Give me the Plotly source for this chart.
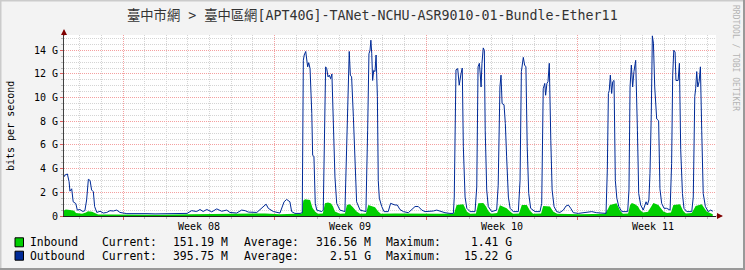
import plotly.graph_objects as go

# ---------------- data (days since start of Week 08, values in G bit/s) ----------------
out_t = [-2.73, -2.68, -2.57, -2.49, -2.45, -2.37, -2.30, -2.18, -2.11, -1.99, -1.86, -1.76,
         -1.68, -1.60, -1.52, -1.45, -1.37, -1.31, -1.21, -1.06, -0.91, -0.75, -0.60, -0.45,
         -0.29, -0.14, 0.18, 0.65, 1.11, 1.48, 1.85, 2.40, 2.96, 3.17, 3.40, 3.56, 3.70, 3.87,
         4.10, 4.33, 4.56, 4.79, 4.94, 5.25, 5.48, 5.64, 5.79, 6.18, 6.41, 6.61, 6.71, 6.94,
         7.25, 7.44, 7.56, 7.71, 7.79, 7.94, 8.18, 8.28, 8.33, 8.37, 8.44, 8.48, 8.53, 8.58,
         8.64, 8.72, 8.76, 8.82, 8.88, 8.95, 9.18, 9.25, 9.30, 9.36, 9.41, 9.47, 9.53, 9.59,
         9.65, 9.71, 9.79, 9.87, 10.02, 10.25, 10.30, 10.36, 10.42, 10.45, 10.50, 10.56, 10.64,
         10.72, 10.79, 10.95, 11.22, 11.30, 11.36, 11.41, 11.45, 11.49, 11.53, 11.58, 11.64,
         11.69, 11.75, 11.79, 11.84, 11.95, 12.06, 12.25, 12.36, 12.56, 12.67, 12.79, 12.95,
         13.18, 13.33, 13.49, 13.64, 13.80, 13.95, 14.10, 14.33, 14.49, 14.72, 14.87, 15.10,
         15.26, 15.30, 15.38, 15.46, 15.53, 15.61, 15.67, 15.72, 15.80, 15.88, 16.03, 16.26,
         16.34, 16.40, 16.46, 16.50, 16.54, 16.58, 16.64, 16.69, 16.73, 16.80, 16.87, 17.03,
         17.26, 17.33, 17.41, 17.46, 17.51, 17.60, 17.66, 17.72, 17.80, 17.88, 18.03, 18.26,
         18.34, 18.40, 18.44, 18.49, 18.55, 18.61, 18.67, 18.74, 18.83, 19.03, 19.26, 19.34,
         19.41, 19.48, 19.52, 19.58, 19.63, 19.69, 19.76, 19.82, 19.91, 20.03, 20.18, 20.34,
         20.46, 20.57, 20.68, 20.80, 21.03, 21.26, 21.42, 21.65, 21.88, 22.11, 22.31, 22.37,
         22.42, 22.46, 22.51, 22.57, 22.62, 22.68, 22.74, 22.81, 22.90, 23.04, 23.31, 23.37,
         23.42, 23.48, 23.54, 23.60, 23.68, 23.76, 23.82, 23.91, 24.03, 24.16, 24.22, 24.29,
         24.34, 24.40, 24.45, 24.50, 24.56, 24.65, 24.74, 24.80, 24.88, 24.99, 25.11, 25.27,
         25.34, 25.39, 25.44, 25.50, 25.54, 25.64, 25.70, 25.76, 25.84, 25.91, 26.04, 26.27,
         26.34, 26.41, 26.45, 26.50, 26.55, 26.61, 26.67, 26.73, 26.80, 26.90, 27.03, 27.14,
         27.24]
out_v = [3.3, 3.46, 3.55, 2.9, 2.1, 2.3, 1.2, 1.05, 0.5, 0.55, 0.38, 0.45,
         1.35, 3.1, 3.0, 2.2, 2.05, 0.8, 0.3, 0.4, 0.25, 0.3, 0.45, 0.42,
         0.5, 0.3, 0.2, 0.22, 0.2, 0.18, 0.2, 0.22, 0.22, 0.45, 0.38, 0.55, 0.38, 0.55,
         0.35, 0.6, 0.4, 0.5, 0.3, 0.25, 0.5, 0.45, 0.33, 0.3, 0.65, 1.0, 0.65, 0.38,
         0.25, 1.2, 1.4, 1.2, 0.37, 0.22, 0.22, 0.28, 13.15, 13.6, 13.9, 13.4, 12.6, 12.95,
         12.45, 8.65, 5.15, 5.0, 1.07, 0.5, 0.37, 0.5, 6.0, 12.6, 12.45, 11.75, 11.9, 11.6,
         12.0, 7.8, 3.3, 1.07, 0.5, 0.37, 4.0, 7.25, 13.15, 13.9, 11.9, 11.75, 8.4,
         3.9, 1.2, 0.5, 0.37, 7.25, 13.7, 14.0, 14.85, 13.7, 11.45, 12.3, 12.2,
         13.6, 10.1, 3.0, 1.5, 0.8, 0.37, 0.37, 1.07, 0.93, 0.93, 0.55, 0.37,
         0.28, 0.5, 0.8, 0.8, 0.5, 0.37, 0.37, 0.42, 0.5, 0.37, 0.28, 0.22,
         0.22, 1.6, 12.35, 12.45, 11.05, 12.0, 12.5, 5.85, 1.6, 0.65, 0.37, 0.37,
         2.45, 12.6, 12.9, 12.0, 10.9, 12.9, 14.2, 14.0, 7.25, 2.2, 0.8, 0.37,
         0.5, 2.6, 10.9, 11.9, 9.5, 9.4, 7.8, 5.0, 1.6, 0.65, 0.37, 0.37,
         3.0, 12.2, 12.75, 13.4, 12.75, 12.6, 5.85, 1.9, 0.65, 0.37, 0.37, 1.07,
         10.75, 11.2, 10.2, 11.2, 11.35, 12.9, 6.4, 2.2, 0.8, 0.37, 0.3, 0.5,
         0.84, 0.93, 0.65, 0.28, 0.22, 0.28, 0.37, 0.37, 0.28, 0.22, 0.22, 3.9,
         10.35, 10.6, 11.9, 10.35, 11.35, 11.45, 3.0, 1.5, 0.8, 0.37, 0.37, 2.2,
         10.9, 12.75, 10.9, 12.2, 13.15, 7.25, 1.9, 0.93, 0.5, 1.2, 0.93, 1.35,
         3.6, 8.6, 15.22, 14.6, 10.9, 8.2, 8.05, 2.3, 1.07, 0.65, 0.65, 0.5,
         4.45, 11.9, 14.0, 13.85, 11.45, 11.45, 12.9, 5.6, 1.9, 0.65, 0.37, 0.37,
         1.6, 10.1, 10.75, 12.2, 10.9, 11.35, 12.6, 7.25, 1.9, 0.8, 0.37, 0.5,
         0.4]

in_t = [-2.73, -2.64, -2.45, -2.26, -2.17, -1.89, -1.71, -1.62, -1.43, -1.29, -1.15, -0.60,
        0.32, 1.71, 3.09, 4.48, 5.87, 6.56, 7.25, 7.71, 8.26, 8.33, 8.41, 8.64, 8.75, 8.87,
        9.00, 9.23, 9.33, 9.47, 9.61, 9.70, 9.79, 10.02, 10.25, 10.34, 10.48, 10.62, 10.79,
        10.95, 11.22, 11.33, 11.49, 11.64, 11.79, 11.91, 12.56, 13.25, 13.95, 14.64, 15.29,
        15.41, 15.72, 15.88, 16.03, 16.30, 16.41, 16.64, 16.77, 16.87, 17.00, 17.28, 17.41,
        17.72, 17.88, 18.01, 18.29, 18.42, 18.65, 18.80, 18.94, 19.31, 19.41, 19.72, 19.87,
        20.04, 21.11, 22.26, 22.40, 22.49, 22.80, 22.96, 23.09, 23.33, 23.42, 23.50, 23.65,
        23.79, 23.88, 24.02, 24.25, 24.39, 24.50, 24.73, 24.96, 25.13, 25.31, 25.42, 25.73,
        25.87, 25.99, 26.27, 26.45, 26.73, 26.96, 27.24]
in_v = [0.45, 0.55, 0.5, 0.45, 0.25, 0.2, 0.3, 0.4, 0.35, 0.25, 0.12, 0.12,
        0.1, 0.1, 0.15, 0.18, 0.15, 0.22, 0.15, 0.2, 0.22, 1.3, 1.41, 1.35, 0.7, 0.37,
        0.2, 0.22, 1.07, 1.15, 1.05, 0.8, 0.37, 0.2, 0.22, 0.93, 1.0, 0.73, 0.37,
        0.2, 0.22, 0.93, 0.85, 0.73, 0.37, 0.2, 0.22, 0.2, 0.18, 0.2, 0.22,
        0.93, 1.0, 0.37, 0.2, 0.22, 1.07, 1.1, 0.8, 0.45, 0.2, 0.25, 0.9,
        0.65, 0.37, 0.2, 0.22, 0.93, 0.93, 0.45, 0.2, 0.22, 0.85, 0.8, 0.37,
        0.18, 0.15, 0.18, 0.6, 0.93, 1.07, 0.45, 0.2, 0.22, 0.9, 1.1, 1.0,
        0.8, 0.5, 0.3, 0.35, 0.8, 1.1, 0.93, 0.37, 0.25, 0.3, 0.93, 1.0,
        0.45, 0.22, 0.25, 0.85, 1.0, 0.37, 0.15]

week_starts = [0, 7, 14, 21]
week_names = ["Week 08", "Week 09", "Week 10", "Week 11"]
y_ticks = [0, 2, 4, 6, 8, 10, 12, 14]
y_labels = ["0", "2 G", "4 G", "6 G", "8 G", "10 G", "12 G", "14 G"]

series_names = ["Inbound", "Outbound"]
series_colors = ["#00CF00", "#002A97"]
cur_vals = ["151.19 M", "395.75 M"]
avg_vals = ["316.56 M", "2.51 G"]
max_vals = ["1.41 G", "15.22 G"]

title_text = "臺中市網 > 臺中區網[APT40G]-TANet-NCHU-ASR9010-01-Bundle-Ether11"

# ---------------- layout geometry (pixels) ----------------
WIDTH, HEIGHT = 745, 270
L, R, T, B = 64, 716, 35, 216
PW, PH = R - L, B - T
X_RANGE = [-2.725, 27.39]
Y_RANGE = [0, 15.29]


def px(xp):
    return (xp - L) / PW


def py(yp):
    return (B - yp) / PH


MONO = "DejaVu Sans Mono, Noto Sans CJK TC, monospace"

fig = go.Figure()
fig.add_trace(go.Scatter(x=in_t, y=in_v, mode="lines", fill="tozeroy",
                         line=dict(width=0, color=series_colors[0]),
                         fillcolor=series_colors[0], hoverinfo="skip", showlegend=False))
fig.add_trace(go.Scatter(x=out_t, y=out_v, mode="lines",
                         line=dict(width=1, color=series_colors[1]),
                         hoverinfo="skip", showlegend=False))

annotations = []
# week labels
for ws, name in zip(week_starts, week_names):
    annotations.append(dict(x=ws + 3.5, xref="x", y=0, yref="paper", yshift=-10,
                            text=name, showarrow=False, xanchor="center", yanchor="middle",
                            font=dict(family=MONO, size=10, color="#000000")))
# y axis title
annotations.append(dict(x=px(11), y=py(126), xref="paper", yref="paper", text="bits per second",
                        textangle=-90, showarrow=False, xanchor="center", yanchor="middle",
                        font=dict(family=MONO, size=10, color="#000000")))
# watermark
annotations.append(dict(x=px(736), y=py(58), xref="paper", yref="paper",
                        text="RRDTOOL / TOBI OETIKER", textangle=90, showarrow=False,
                        xanchor="center", yanchor="middle",
                        font=dict(family=MONO, size=8, color="#B4B4B4")))
# title
annotations.append(dict(x=px(372.5), y=py(15), xref="paper", yref="paper", text=title_text,
                        showarrow=False, xanchor="center", yanchor="middle",
                        font=dict(family=MONO, size=13.3, color="#333333")))
# axis arrows
annotations.append(dict(x=px(L), y=py(29), xref="paper", yref="paper", ax=0, ay=8,
                        axref="pixel", ayref="pixel", text="", showarrow=True,
                        arrowhead=2, arrowsize=1.2, arrowwidth=1, arrowcolor="#7F0000"))
annotations.append(dict(x=px(723), y=py(B), xref="paper", yref="paper", ax=-8, ay=0,
                        axref="pixel", ayref="pixel", text="", showarrow=True,
                        arrowhead=2, arrowsize=1.2, arrowwidth=1, arrowcolor="#7F0000"))

shapes = []
row_y = [242.3, 255.7]
for i in range(2):
    yc = row_y[i]
    shapes.append(dict(type="rect", xref="paper", yref="paper",
                       x0=px(15), x1=px(23.5), y0=py(yc - 4.5), y1=py(yc + 4.5),
                       fillcolor=series_colors[i], line=dict(color="#000000", width=1)))

    def txt(xp, s, anchor):
        annotations.append(dict(x=px(xp), y=py(yc), xref="paper", yref="paper", text=s,
                                showarrow=False, xanchor=anchor, yanchor="middle",
                                borderpad=0, borderwidth=0,
                                font=dict(family=MONO, size=11.4, color="#000000")))
    txt(30, series_names[i], "left")
    txt(102, "Current:", "left")
    txt(227.5, cur_vals[i], "right")
    txt(244, "Average:", "left")
    txt(370.5, avg_vals[i], "right")
    txt(386, "Maximum:", "left")
    txt(511.5, max_vals[i], "right")

# outer 3D frame
shapes.append(dict(type="line", xref="paper", yref="paper", x0=px(0), x1=px(WIDTH),
                   y0=py(0.5), y1=py(0.5), line=dict(color="#CBCBCB", width=2)))
shapes.append(dict(type="line", xref="paper", yref="paper", x0=px(0.5), x1=px(0.5),
                   y0=py(0), y1=py(HEIGHT), line=dict(color="#CBCBCB", width=2)))
shapes.append(dict(type="line", xref="paper", yref="paper", x0=px(0), x1=px(WIDTH),
                   y0=py(HEIGHT - 1), y1=py(HEIGHT - 1), line=dict(color="#999999", width=2)))
shapes.append(dict(type="line", xref="paper", yref="paper", x0=px(WIDTH - 1), x1=px(WIDTH - 1),
                   y0=py(0), y1=py(HEIGHT), line=dict(color="#999999", width=2)))

fig.update_layout(
    width=WIDTH, height=HEIGHT,
    margin=dict(l=L, r=WIDTH - R, t=T, b=HEIGHT - B, pad=0),
    paper_bgcolor="#F3F3F3", plot_bgcolor="#FFFFFF",
    showlegend=False, hovermode=False,
    annotations=annotations, shapes=shapes,
    xaxis=dict(range=X_RANGE, tickmode="array", tickvals=week_starts, showticklabels=False,
               showgrid=True, gridcolor="#F4A0A0", griddash="1px,1px", gridwidth=1,
               ticks="outside", ticklen=3, tickcolor="#E06060",
               zeroline=False, showline=True, linecolor="#202020", linewidth=1,
               minor=dict(tickmode="linear", tick0=0, dtick=1, showgrid=True,
                          gridcolor="#D4D4D4", griddash="1px,1px", ticks="outside",
                          ticklen=2, tickcolor="#BBBBBB"),
               fixedrange=True),
    yaxis=dict(range=Y_RANGE, tickmode="array", tickvals=y_ticks, ticktext=y_labels,
               showgrid=True, gridcolor="#F4A0A0", griddash="1px,1px", gridwidth=1,
               ticks="outside", ticklen=3, tickcolor="#E06060",
               tickfont=dict(family=MONO, size=10, color="#000000"),
               zeroline=False, showline=True, linecolor="#404040", linewidth=1,
               minor=dict(tickmode="linear", tick0=0, dtick=0.5, showgrid=True,
                          gridcolor="#D4D4D4", griddash="1px,1px", ticks="outside",
                          ticklen=2, tickcolor="#BBBBBB"),
               fixedrange=True),
)

fig.write_html("out.html", config={"displayModeBar": False, "staticPlot": True})
